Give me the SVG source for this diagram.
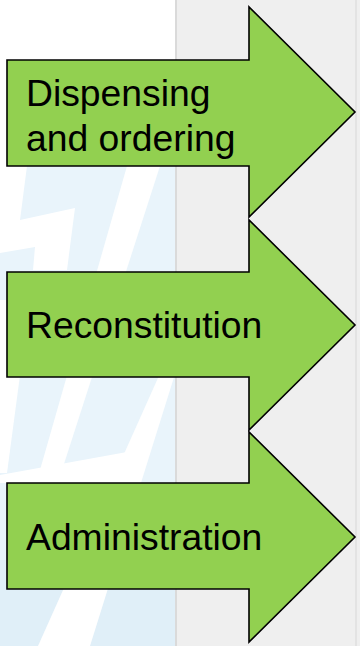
<svg xmlns="http://www.w3.org/2000/svg" width="360" height="646" viewBox="0 0 360 646">
  <style>
    .arrow { fill: #92d050; stroke: #000000; stroke-width: 1.6; stroke-linejoin: miter; }
    .label { font-family: "Liberation Sans", Arial, sans-serif; font-size: 37.3px; fill: #000000; }
    .wm { fill: #e9f4fb; }
    .wmw { fill: #ffffff; }
  </style>
  <g id="background">
    <rect x="0" y="0" width="360" height="646" fill="#ffffff"/>
    <rect class="wm" x="0" y="166" width="175" height="480"/>
    <rect x="0" y="560" width="175" height="86" fill="#e0eff8"/>
    <polygon class="wmw" points="0,166 27,166 20,220 75,208 67,270 33,270 35,247 0,253"/>
    <polygon class="wmw" points="127,166 160,166 63,467 40,470"/>
    <polygon class="wmw" points="0,300 30,300 7,473 0,473"/>
    <polygon class="wmw" points="175,340 175,374 90,646 38,646"/>
    <polygon class="wmw" points="0,475 127,452 140,452 130,483 0,483"/>
    <rect x="175" y="0" width="185" height="646" fill="#efefef"/>
    <line x1="176" y1="0" x2="176" y2="646" stroke="#dadada" stroke-width="2"/>
    <line x1="356" y1="0" x2="356" y2="646" stroke="#e3e3e3" stroke-width="2"/>
  </g>
  <g id="connectors"></g>
  <g id="node-dispensing">
    <path class="arrow" d="M7,60 H249 V7 L355,112 L249,217 V166 H7 Z"/>
    <text class="label" x="26" y="106">Dispensing</text>
    <text class="label" x="26" y="150.5">and ordering</text>
  </g>
  <g id="node-reconstitution">
    <path class="arrow" d="M7,272 H249 V220 L355,325 L249,430 V377 H7 Z"/>
    <text class="label" x="26" y="338">Reconstitution</text>
  </g>
  <g id="node-administration">
    <path class="arrow" d="M7,483 H249 V432 L355,537 L249,642 V589 H7 Z"/>
    <text class="label" x="26" y="550">Administration</text>
  </g>
</svg>
